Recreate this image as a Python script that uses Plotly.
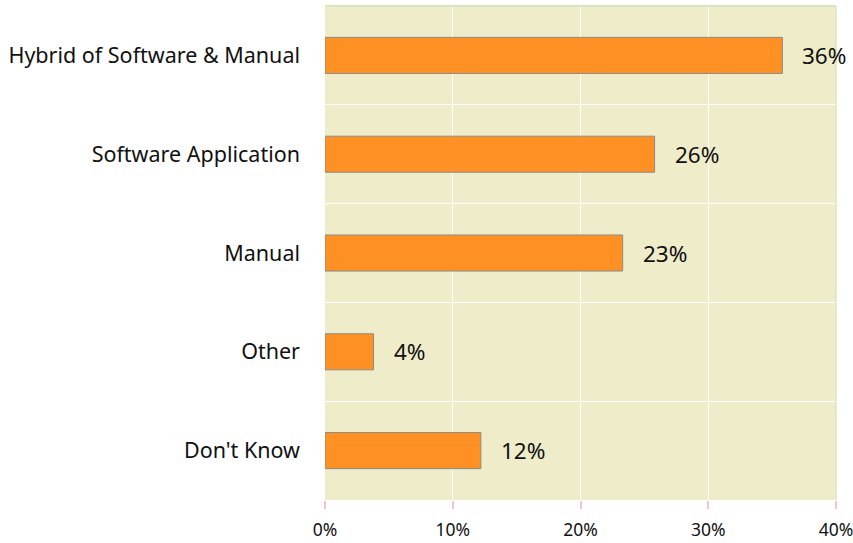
import plotly.graph_objects as go

categories = ["Hybrid of Software & Manual", "Software Application", "Manual", "Other", "Don't Know"]
values = [35.8, 25.8, 23.3, 3.8, 12.2]
value_labels = ["36%", "26%", "23%", "4%", "12%"]
x_tickvals = [0, 10, 20, 30, 40]
x_ticktext = ["0%", "10%", "20%", "30%", "40%"]

FONT = "Noto Sans"

fig = go.Figure()
fig.add_trace(go.Bar(
    x=values, y=categories, orientation="h",
    width=0.365,
    marker=dict(color="#FF9124", line=dict(color="#8a8a8a", width=1)),
    hoverinfo="skip",
))

for v, c, t in zip(values, categories, value_labels):
    fig.add_annotation(x=v, y=c, text=t, showarrow=False, xanchor="left",
                       xshift=18, font=dict(family=FONT, size=22.5, color="#111111"))

fig.update_layout(
    width=853, height=543,
    margin=dict(l=325, r=17, t=6, b=43, autoexpand=False),
    paper_bgcolor="white",
    plot_bgcolor="#EFEDC9",
    showlegend=False,
    font=dict(family=FONT, color="#111111"),
    xaxis=dict(
        range=[0, 40], tickvals=x_tickvals, ticktext=x_ticktext,
        showgrid=True, gridcolor="white", gridwidth=1.2,
        zeroline=False, showline=False,
        ticks="outside", ticklen=8, tickcolor="#F6C4CB", tickwidth=1.5,
        tickfont=dict(family=FONT, size=17.5, color="#111111"),
        ticklabelstandoff=6, automargin=False, ticklabeloverflow="allow",
        fixedrange=True,
    ),
    yaxis=dict(
        type="category", categoryorder="array", categoryarray=categories,
        autorange="reversed",
        tickson="boundaries", showgrid=True, gridcolor="white", gridwidth=1.2,
        ticks="", zeroline=False, showline=False,
        tickfont=dict(family=FONT, size=21.5, color="#111111"),
        ticklabelstandoff=24, automargin=False,
        fixedrange=True,
    ),
)

fig.add_shape(type="line", xref="paper", yref="paper", x0=0, x1=1, y0=1, y1=1,
              line=dict(color="#DCE4BE", width=2))
fig.add_shape(type="line", xref="paper", yref="paper", x0=1, x1=1, y0=0, y1=1,
              line=dict(color="#DCE4BE", width=1.5))

fig.write_html("out.html", config={"displayModeBar": False},
               post_script="document.body.style.margin='0';document.body.style.overflow='hidden';")
